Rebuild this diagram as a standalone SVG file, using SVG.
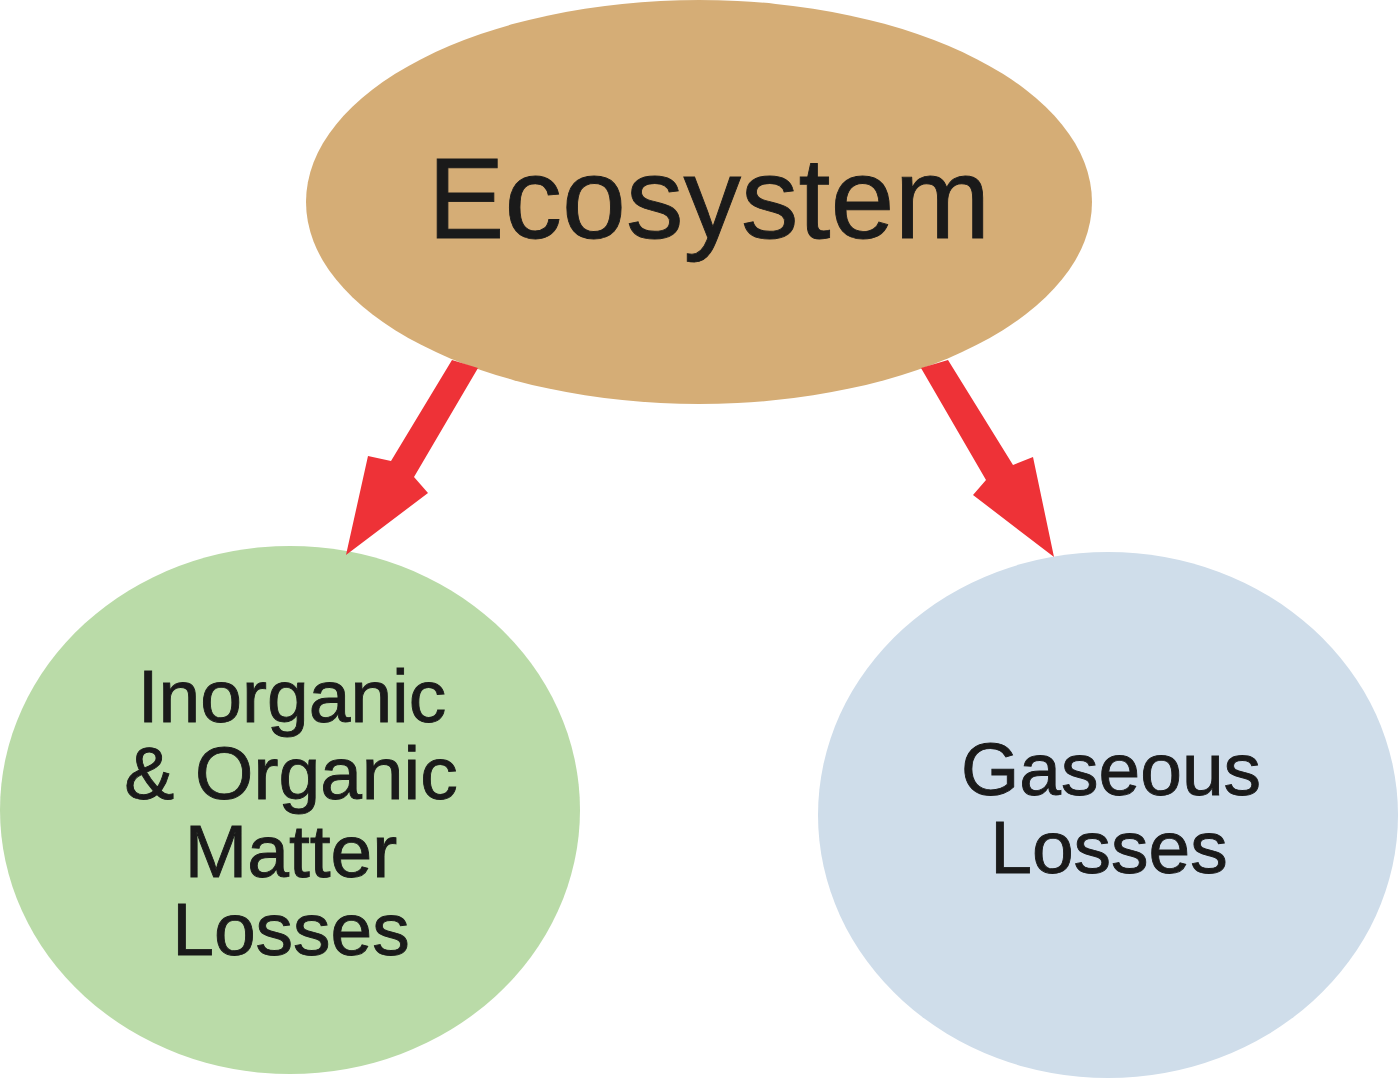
<svg xmlns="http://www.w3.org/2000/svg" width="1398" height="1078" viewBox="0 0 1398 1078">
<style>
.t{font-family:"Liberation Sans",Arial,sans-serif;fill:#1a1a1a;stroke:#1a1a1a;stroke-width:0.9;text-anchor:middle}
.arrow{fill:#EE3237}
</style>
<rect width="1398" height="1078" fill="#ffffff"/>
<g id="ecosystem">
<ellipse cx="699" cy="202" rx="393" ry="202" fill="#D5AD76"/>
<text class="t" x="709" y="238" font-size="115">Ecosystem</text>
</g>
<g id="matter-losses">
<ellipse cx="290" cy="810" rx="290" ry="264" fill="#BADBA8"/>
<text class="t" font-size="75"><tspan x="292" y="722">Inorganic</tspan><tspan x="291" y="799">&amp; Organic</tspan><tspan x="291" y="877">Matter</tspan><tspan x="291" y="955">Losses</tspan></text>
</g>
<g id="gaseous-losses">
<ellipse cx="1108" cy="815" rx="290" ry="263" fill="#CFDDEA"/>
<text class="t" font-size="75"><tspan x="1111" y="795">Gaseous</tspan><tspan x="1109" y="873">Losses</tspan></text>
</g>
<g id="connectors">
<polygon class="arrow" points="452,360 478,368 414,477 428,493 346,555 368,456 391,461"/>
<polygon class="arrow" points="948,360 921,368 986,480 973,495 1054,557 1033,457 1013,465"/>
</g>
</svg>
